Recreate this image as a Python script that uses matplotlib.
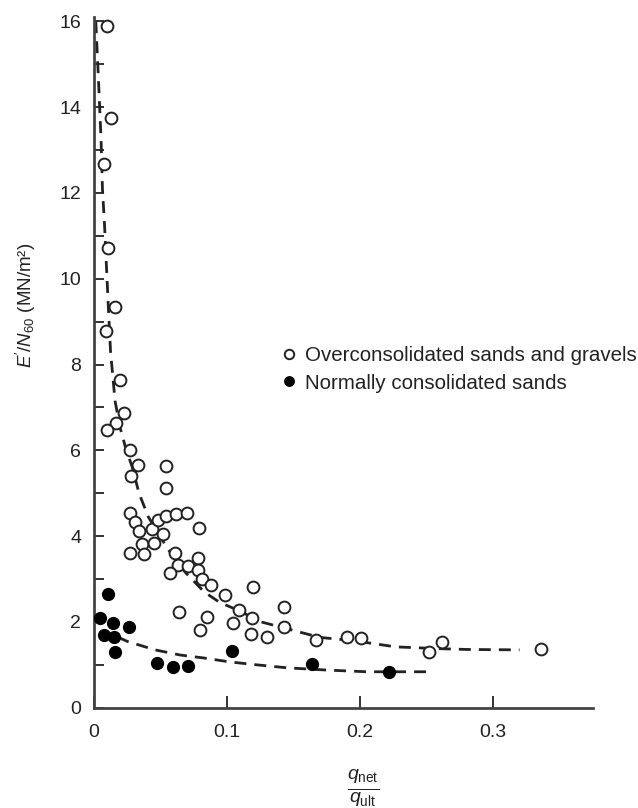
import matplotlib

matplotlib.use("Agg")
import matplotlib.pyplot as plt
from matplotlib.ticker import MultipleLocator

plt.rcParams["font.family"] = ["Liberation Sans", "DejaVu Sans"]
plt.rcParams["mathtext.fontset"] = "custom"
plt.rcParams["mathtext.rm"] = "Liberation Sans"
plt.rcParams["mathtext.it"] = "Liberation Sans:italic"

# overconsolidated sands and gravels (open circles)
oc_x = [0.0098, 0.013, 0.0077, 0.011, 0.016, 0.009, 0.020, 0.023, 0.017, 0.0098,
        0.027, 0.033, 0.028, 0.0545, 0.0545, 0.027, 0.031, 0.034, 0.044, 0.048,
        0.054, 0.062, 0.070, 0.079, 0.052, 0.036, 0.045, 0.027, 0.038, 0.061,
        0.063, 0.057, 0.071, 0.078, 0.078, 0.081, 0.088, 0.064, 0.080, 0.085,
        0.099, 0.120, 0.109, 0.105, 0.119, 0.118, 0.130, 0.143, 0.143, 0.167,
        0.190, 0.201, 0.252, 0.262, 0.336]
oc_y = [15.9, 13.74, 12.67, 10.72, 9.33, 8.79, 7.63, 6.86, 6.63, 6.47,
        6.0, 5.65, 5.4, 5.63, 5.12, 4.53, 4.33, 4.12, 4.16, 4.37,
        4.47, 4.51, 4.53, 4.2, 4.05, 3.81, 3.84, 3.6, 3.58, 3.6,
        3.33, 3.14, 3.3, 3.5, 3.2, 3.0, 2.86, 2.23, 1.81, 2.12,
        2.62, 2.81, 2.27, 1.97, 2.09, 1.72, 1.65, 2.35, 1.88, 1.58,
        1.65, 1.63, 1.30, 1.53, 1.37]

# normally consolidated sands (filled circles)
nc_x = [0.0105, 0.005, 0.0147, 0.0266, 0.0077, 0.0154, 0.016, 0.0476, 0.0594,
        0.0706, 0.104, 0.164, 0.222]
nc_y = [2.65, 2.09, 1.97, 1.88, 1.70, 1.65, 1.30, 1.05, 0.95,
        0.98, 1.32, 1.02, 0.84]

# dashed trend lines
oc_fit_x = [0.0015, 0.003, 0.004, 0.0055, 0.0065, 0.008, 0.0095, 0.011, 0.0126,
            0.016, 0.0196, 0.024, 0.029, 0.034, 0.041, 0.050, 0.060, 0.069,
            0.083, 0.095, 0.108, 0.126, 0.148, 0.170, 0.190, 0.205, 0.227,
            0.258, 0.280, 0.320]
oc_fit_y = [16.0, 15.0, 14.3, 13.2, 12.1, 11.3, 10.3, 9.3, 8.3,
            7.15, 6.55, 6.05, 5.6, 5.0, 4.45, 3.98, 3.5, 3.15,
            2.7, 2.45, 2.28, 2.0, 1.82, 1.64, 1.58, 1.52, 1.42,
            1.38, 1.36, 1.35]
nc_fit_x = [0.018, 0.025, 0.046, 0.065, 0.083, 0.102, 0.123, 0.146, 0.175, 0.205, 0.250]
nc_fit_y = [1.65, 1.55, 1.35, 1.23, 1.16, 1.07, 1.00, 0.93, 0.88, 0.84, 0.84]

ink = "#222222"

fig = plt.figure(figsize=(6.38, 8.08), dpi=100)
ax = fig.add_axes([0.147, 0.124, 0.782, 0.855])

ax.plot(oc_fit_x, oc_fit_y, color=ink, lw=2, dashes=(4.3, 2.9), zorder=2)
ax.plot(nc_fit_x, nc_fit_y, color=ink, lw=2, dashes=(4.3, 2.9), zorder=2)

ax.plot(oc_x, oc_y, "o", ms=8.5, mfc="white", mec=ink, mew=1.4, ls="none",
        label="Overconsolidated sands and gravels", zorder=3)
ax.plot(nc_x, nc_y, "o", ms=8.5, mfc="black", mec="black", mew=1.0, ls="none",
        label="Normally consolidated sands", zorder=3)

ax.set_xlim(0, 0.375)
ax.set_ylim(0, 16.1)
ax.set_xticks([0, 0.1, 0.2, 0.3])
ax.set_xticklabels(["0", "0.1", "0.2", "0.3"])
ax.yaxis.set_major_locator(MultipleLocator(2))
ax.yaxis.set_minor_locator(MultipleLocator(1))
ax.tick_params(axis="both", which="both", direction="in", colors=ink,
               labelsize=14, width=1.3)
ax.tick_params(axis="x", length=9, pad=12)
ax.tick_params(axis="y", which="major", length=7, pad=9)
ax.tick_params(axis="y", which="minor", length=7)

for side in ("top", "right"):
    ax.spines[side].set_visible(False)
for side in ("left", "bottom"):
    ax.spines[side].set_linewidth(2)
    ax.spines[side].set_color("#444444")

ax.legend(loc="upper left", bbox_to_anchor=(0.355, 0.535), frameon=False,
          fontsize=14.8, handletextpad=0.25, labelspacing=0.4, borderaxespad=0,
          handlelength=1.0, markerscale=0.8, labelcolor=ink)

fig.text(0.04, 0.622, r"$E'/N_{60}$ (MN/m²)", rotation=90, ha="center",
         va="center", fontsize=13.5, color=ink)
fig.text(0.569, 0.024, r"$\frac{q_{\mathrm{net}}}{q_{\mathrm{ult}}}$", ha="center",
         va="center", fontsize=20, color=ink)

fig.savefig("out.png", dpi=100, facecolor="white")
